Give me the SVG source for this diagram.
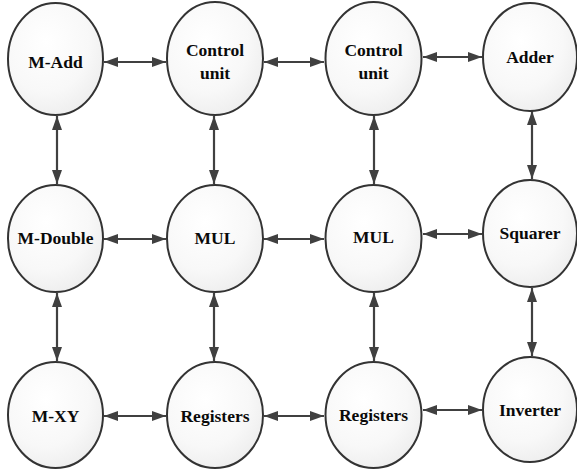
<svg xmlns="http://www.w3.org/2000/svg" width="577" height="469" viewBox="0 0 577 469">
<defs>
<radialGradient id="g" cx="0.4" cy="0.35" r="0.75">
<stop offset="0" stop-color="#ffffff"/>
<stop offset="0.6" stop-color="#f8f8f8"/>
<stop offset="1" stop-color="#ebebeb"/>
</radialGradient>
<marker id="ah" viewBox="0 0 14 10" refX="14" refY="5" markerWidth="14" markerHeight="10" markerUnits="userSpaceOnUse" orient="auto-start-reverse">
<path d="M0,0 L14,5 L0,10 Z" fill="#404040"/>
</marker>
<style>
.n{fill:url(#g);stroke:#333333;stroke-width:2}
.t{font-family:"Liberation Serif","Times New Roman",serif;font-weight:bold;font-size:17.5px;fill:#0a0a0a;text-anchor:middle}
.c line{stroke:#404040;stroke-width:2.2;marker-start:url(#ah);marker-end:url(#ah)}
</style>
</defs>
<rect width="577" height="469" fill="#ffffff"/>
<g class="c" id="connectors">
<line x1="104" y1="62" x2="166" y2="62"/>
<line x1="264" y1="62" x2="324" y2="62"/>
<line x1="423" y1="57" x2="482" y2="57"/>
<line x1="104" y1="239" x2="166" y2="239"/>
<line x1="264" y1="239" x2="324" y2="239"/>
<line x1="423" y1="234" x2="482" y2="234"/>
<line x1="104" y1="416" x2="166" y2="416"/>
<line x1="264" y1="416" x2="324" y2="416"/>
<line x1="423" y1="410" x2="482" y2="410"/>
<line x1="57" y1="116" x2="57" y2="184"/>
<line x1="214" y1="116" x2="214" y2="184"/>
<line x1="374" y1="116" x2="374" y2="184"/>
<line x1="532" y1="111" x2="532" y2="179"/>
<line x1="57" y1="293" x2="57" y2="361"/>
<line x1="214" y1="293" x2="214" y2="361"/>
<line x1="374" y1="293" x2="374" y2="361"/>
<line x1="532" y1="288" x2="532" y2="356"/>
</g>
<g id="m-add"><ellipse class="n" cx="55.5" cy="59" rx="47.5" ry="56"/><text class="t" x="55.5" y="68">M-Add</text></g>
<g id="cu1"><ellipse class="n" cx="215" cy="58.5" rx="48" ry="56.5"/><text class="t" x="215" y="56">Control</text><text class="t" x="215" y="79">unit</text></g>
<g id="cu2"><ellipse class="n" cx="373.5" cy="58.5" rx="48" ry="56.5"/><text class="t" x="373.5" y="56">Control</text><text class="t" x="373.5" y="79">unit</text></g>
<g id="adder"><ellipse class="n" cx="530" cy="57" rx="47" ry="54"/><text class="t" x="530" y="63">Adder</text></g>
<g id="m-double"><ellipse class="n" cx="55.5" cy="238.5" rx="47.5" ry="53.5"/><text class="t" x="55.5" y="244">M-Double</text></g>
<g id="mul1"><ellipse class="n" cx="215" cy="238.5" rx="48" ry="53.5"/><text class="t" x="215" y="244">MUL</text></g>
<g id="mul2"><ellipse class="n" cx="373.5" cy="238.5" rx="48" ry="53.5"/><text class="t" x="373.5" y="243">MUL</text></g>
<g id="squarer"><ellipse class="n" cx="530" cy="233.5" rx="47" ry="53.5"/><text class="t" x="530" y="239">Squarer</text></g>
<g id="m-xy"><ellipse class="n" cx="55.5" cy="415" rx="47.5" ry="53"/><text class="t" x="55.5" y="422">M-XY</text></g>
<g id="reg1"><ellipse class="n" cx="215" cy="415" rx="48" ry="53"/><text class="t" x="215" y="422">Registers</text></g>
<g id="reg2"><ellipse class="n" cx="373.5" cy="415" rx="48" ry="53"/><text class="t" x="373.5" y="421">Registers</text></g>
<g id="inverter"><ellipse class="n" cx="530" cy="409.5" rx="47" ry="52.5"/><text class="t" x="530" y="416">Inverter</text></g>
</svg>
